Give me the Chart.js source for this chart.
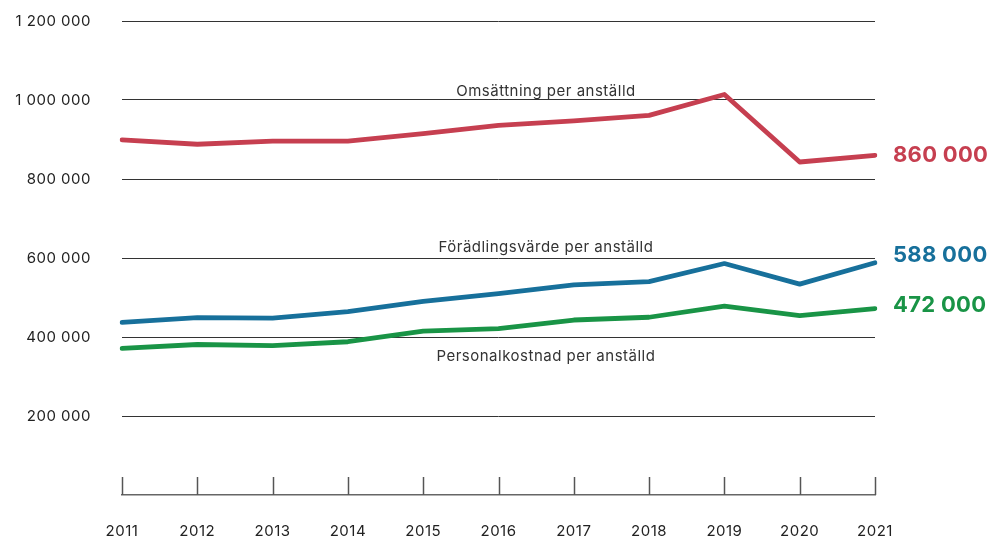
<!DOCTYPE html>
<html>
<head>
<meta charset="utf-8">
<script src="https://cdn.jsdelivr.net/npm/chart.js@4/dist/chart.umd.min.js"></script>
<style>
  html, body { margin: 0; padding: 0; background: #fff; }
  #wrap { width: 989px; height: 539px; position: relative; }
</style>
</head>
<body>
<div id="wrap"><canvas id="grafica"></canvas></div>
<script>
const years = ['2011', '2012', '2013', '2014', '2015', '2016', '2017', '2018', '2019', '2020', '2021'];
const omsattning = [899000, 888000, 896000, 896000, 915000, 936000, 947000, 961000, 1014000, 843000, 860000];
const foradling = [437000, 449000, 448000, 464000, 490000, 510000, 532000, 540000, 586000, 534000, 588000];
const personal = [371000, 381000, 378000, 388000, 415000, 421000, 443000, 450000, 478000, 454000, 472000];
const yTicks = [200000, 400000, 600000, 800000, 1000000, 1200000];
const seriesNames = ['Omsättning per anställd', 'Förädlingsvärde per anställd', 'Personalkostnad per anställd'];
const endLabels = ['860 000', '588 000', '472 000'];

const colores = ['#c63f50', '#17709b', '#199446'];
const fuente = 'Inter, "Noto Sans", sans-serif';

function formato(v) {
    return String(v).replace(/\B(?=(\d{3})+(?!\d))/g, ' ');
}

// textos y marcas del eje x
const extras = {
    id: 'extras',
    beforeDraw(chart) {
        chart.ctx.letterSpacing = '0.5px';
    },
    afterDraw(chart) {
        const ctx = chart.ctx;
        const x = chart.scales.x;
        const y = chart.scales.y;
        const y0 = y.getPixelForValue(0);

        ctx.save();
        ctx.strokeStyle = '#555';
        ctx.lineWidth = 1.5;
        years.forEach((a, i) => {
            const px = Math.round(x.getPixelForValue(i)) + 0.5;
            ctx.beginPath();
            ctx.moveTo(px, y0 - 18);
            ctx.lineTo(px, y0);
            ctx.stroke();
        });

        // nombres de las series
        ctx.fillStyle = '#333';
        ctx.font = '15px ' + fuente;
        ctx.textAlign = 'center';
        ctx.textBaseline = 'middle';
        const cx = x.getPixelForValue(5.63);
        ctx.fillText(seriesNames[0], cx, y.getPixelForValue(1022000));
        ctx.fillText(seriesNames[1], cx, y.getPixelForValue(627000));
        ctx.fillText(seriesNames[2], cx, y.getPixelForValue(350000));

        // valores finales
        ctx.font = 'bold 22px ' + fuente;
        ctx.letterSpacing = '0.3px';
        ctx.textAlign = 'left';
        const last = years.length - 1;
        const lx = x.getPixelForValue(last) + 18;
        const datos = [omsattning, foradling, personal];
        const desplaz = [0, -7, -3];
        datos.forEach((d, i) => {
            ctx.fillStyle = colores[i];
            ctx.fillText(endLabels[i], lx, y.getPixelForValue(d[last]) + desplaz[i]);
        });
        ctx.restore();
    }
};

const ctx = document.getElementById('grafica').getContext('2d');
const myChart = new Chart(ctx, {
    type: 'line',
    data: {
        labels: years,
        datasets: [
            { label: seriesNames[0], data: omsattning, borderColor: colores[0] },
            { label: seriesNames[1], data: foradling, borderColor: colores[1] },
            { label: seriesNames[2], data: personal, borderColor: colores[2] }
        ].map(d => Object.assign(d, {
            borderWidth: 4.8,
            pointRadius: 0,
            tension: 0,
            fill: false,
            borderCapStyle: 'round',
            borderJoinStyle: 'round'
        }))
    },
    options: {
        responsive: true,
        maintainAspectRatio: false,
        animation: false,
        layout: {
            padding: { left: 0, right: 114, top: 21, bottom: 0 }
        },
        scales: {
            x: {
                offset: false,
                grid: { display: false, drawTicks: false },
                border: { display: true, color: '#666', width: 1.5 },
                afterFit(scale) {
                    scale.height = 44;
                    scale.paddingLeft = 0;
                    scale.paddingRight = 0;
                },
                ticks: {
                    color: '#222',
                    font: { family: fuente, size: 15 },
                    padding: 27,
                    maxRotation: 0
                }
            },
            y: {
                min: 0,
                max: 1200000,
                afterBuildTicks(scale) {
                    scale.ticks = yTicks.map(v => ({ value: v }));
                },
                afterFit(scale) {
                    scale.width = 122;
                    scale.paddingTop = 0;
                    scale.paddingBottom = 0;
                },
                grid: {
                    color: '#333',
                    lineWidth: 1,
                    drawTicks: false
                },
                border: { display: false },
                ticks: {
                    color: '#222',
                    font: { family: fuente, size: 15 },
                    padding: 31,
                    callback: v => formato(v)
                }
            }
        },
        plugins: {
            legend: { display: false },
            tooltip: { enabled: false }
        }
    },
    plugins: [extras]
});
</script>
</body>
</html>
